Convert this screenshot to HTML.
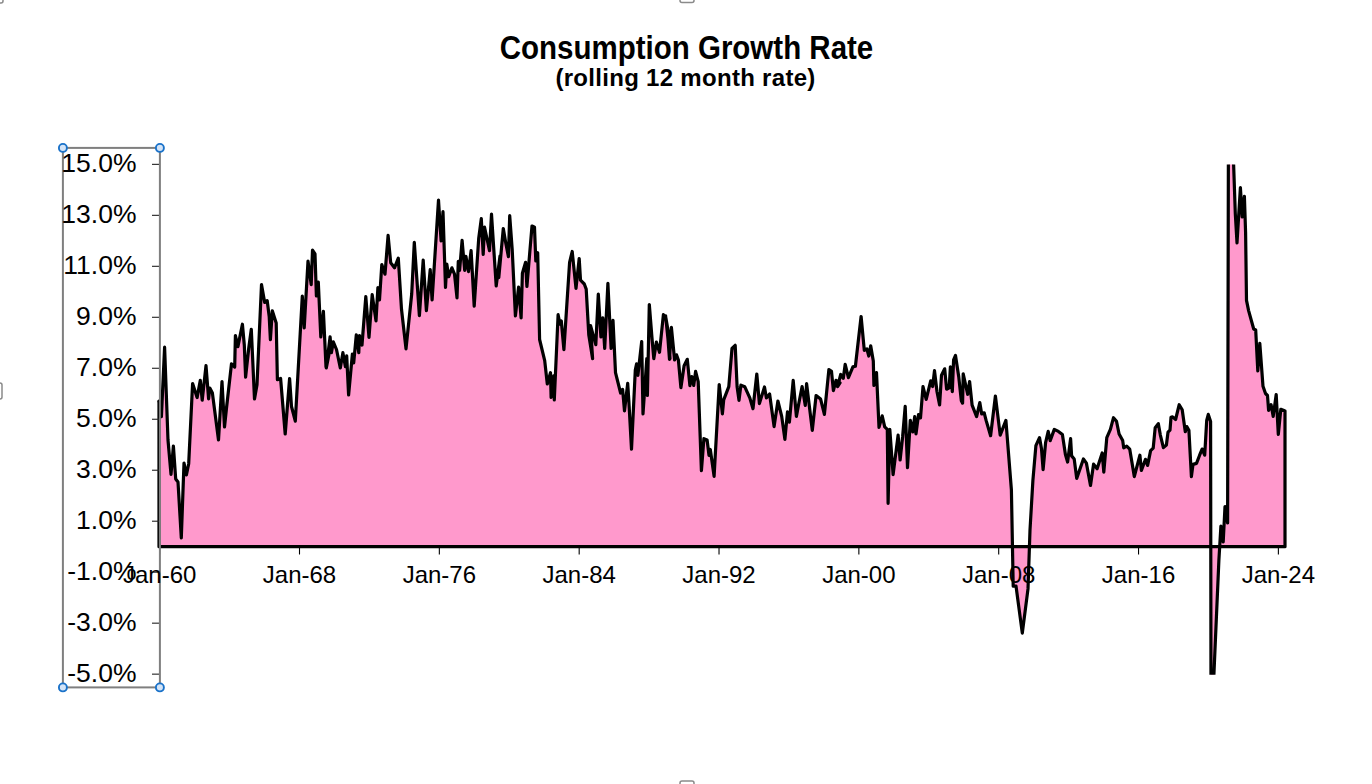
<!DOCTYPE html>
<html><head><meta charset="utf-8"><style>
html,body{margin:0;padding:0;background:#fff;width:1372px;height:784px;overflow:hidden;position:relative}
text{font-family:"Liberation Sans",sans-serif;fill:#000}
.yl{font-size:26.5px}
.xl{font-size:24px}
.t1{font-size:29.5px;font-weight:bold}
.t2{font-size:24px;font-weight:bold;letter-spacing:0.3px}
</style></head><body>
<svg width="1372" height="784" viewBox="0 0 1372 784" style="position:absolute;left:0;top:0">
<defs><clipPath id="pc"><rect x="150" y="164.5" width="1150" height="510.3"/></clipPath></defs>
<path d="M159.0 546.7 L159.0 401.0 L158.8 401.4 L161.4 416.7 L164.6 347.2 L168.0 440.0 L171.0 474.4 L173.4 446.0 L175.7 479.0 L178.0 482.0 L181.3 538.0 L184.0 463.0 L186.4 475.0 L188.7 463.7 L192.6 383.6 L197.1 397.6 L200.3 380.4 L202.2 400.2 L206.0 365.7 L208.6 398.9 L209.8 388.0 L212.4 393.1 L218.5 440.0 L222.0 381.7 L224.5 427.0 L226.4 409.0 L231.5 363.8 L234.7 367.0 L235.4 335.5 L237.9 346.6 L242.4 324.2 L244.3 345.0 L245.6 377.2 L248.7 348.5 L251.3 329.3 L254.5 398.9 L257.0 384.8 L261.5 284.6 L264.7 302.5 L267.2 300.6 L269.2 316.5 L270.4 339.6 L272.3 310.8 L276.2 322.9 L277.4 379.7 L280.6 378.5 L285.2 434.0 L289.6 378.5 L291.5 406.5 L295.3 421.2 L302.3 296.1 L304.2 328.0 L308.0 261.0 L311.2 284.6 L312.5 250.2 L315.0 254.0 L316.4 296.0 L318.3 282.0 L320.8 337.0 L323.4 311.4 L326.0 367.0 L330.0 349.0 L326.3 368.0 L330.1 336.8 L331.4 352.7 L333.3 341.9 L336.5 349.5 L340.3 368.0 L342.9 352.7 L345.4 366.7 L346.7 355.9 L348.6 395.0 L352.4 354.0 L353.7 362.9 L356.3 334.8 L358.8 352.7 L359.4 335.5 L362.0 345.0 L365.8 296.6 L369.0 337.4 L372.2 294.7 L376.0 320.8 L377.9 287.7 L379.5 300.0 L381.8 264.6 L385.0 274.2 L388.1 235.3 L390.7 262.7 L394.5 267.8 L398.3 258.2 L401.5 309.3 L406.0 348.9 L411.7 294.0 L414.3 242.3 L419.4 315.7 L423.2 260.2 L426.4 310.6 L430.2 269.7 L432.1 299.8 L438.5 200.2 L441.1 241.0 L443.0 211.7 L445.5 287.5 L446.8 264.0 L448.7 276.7 L451.9 267.8 L454.5 274.2 L457.0 297.9 L458.3 261.4 L459.6 270.4 L462.1 240.4 L464.7 270.4 L465.9 256.3 L468.5 271.6 L471.1 250.6 L474.2 306.1 L478.7 238.5 L481.3 218.7 L483.2 254.4 L484.5 227.0 L489.5 250.6 L491.5 214.2 L496.2 286.0 L500.0 256.0 L498.8 277.6 L503.3 228.5 L505.8 243.2 L508.4 256.6 L509.7 215.7 L512.2 249.5 L515.4 315.9 L518.6 287.2 L521.1 317.9 L522.4 273.1 L525.6 262.3 L526.9 286.5 L532.0 226.0 L534.5 227.2 L535.8 261.0 L537.7 252.7 L539.6 339.5 L544.7 360.6 L547.3 384.0 L550.5 372.7 L551.1 397.4 L553.7 375.9 L554.3 400.0 L558.1 314.7 L560.0 324.2 L561.3 321.0 L563.9 349.7 L569.6 262.3 L572.2 251.5 L576.0 288.4 L579.2 258.5 L580.5 280.2 L584.3 284.0 L586.2 289.1 L588.8 335.1 L592.6 358.7 L590.5 325.5 L595.8 344.6 L598.3 294.2 L600.9 337.0 L602.8 317.9 L604.7 348.5 L607.9 283.3 L611.1 348.5 L613.0 320.4 L615.5 372.7 L620.6 393.0 L622.6 389.3 L624.5 410.8 L627.7 383.4 L628.9 401.9 L631.5 449.1 L635.3 370.0 L636.6 363.8 L637.9 375.3 L641.7 341.5 L643.0 414.0 L646.8 358.7 L647.4 395.5 L649.3 304.5 L651.9 337.0 L653.8 358.7 L656.4 342.1 L659.5 352.3 L663.4 314.7 L665.9 317.9 L668.5 333.2 L670.0 358.7 L665.6 315.9 L667.6 333.8 L669.5 359.3 L671.4 327.4 L674.6 360.0 L676.5 354.8 L678.4 360.0 L680.9 387.7 L684.1 365.7 L687.3 359.3 L689.9 385.7 L691.8 376.5 L693.7 385.5 L695.6 371.4 L698.2 381.6 L701.4 470.6 L703.9 438.7 L707.1 440.0 L709.0 455.3 L710.3 449.5 L714.1 476.3 L719.2 384.5 L722.4 413.8 L723.7 399.8 L728.8 386.7 L732.0 348.5 L735.2 345.3 L737.1 386.7 L739.0 400.4 L740.9 385.1 L744.7 386.7 L749.8 397.9 L753.0 408.7 L756.8 374.0 L759.4 403.6 L764.5 387.0 L766.4 397.9 L769.6 394.0 L774.1 426.6 L777.9 401.0 L781.7 416.4 L784.9 439.3 L787.5 411.9 L789.4 422.1 L793.2 380.4 L796.4 416.4 L798.9 403.0 L802.1 386.5 L805.3 405.5 L806.6 383.6 L812.3 430.4 L816.1 395.5 L820.6 399.1 L824.4 414.4 L828.9 369.5 L831.5 371.4 L833.4 390.6 L836.0 380.4 L840.0 382.9 L837.6 386.6 L840.7 374.5 L843.3 378.3 L845.2 364.3 L848.4 377.7 L852.9 366.9 L855.4 366.2 L858.6 338.2 L861.1 316.5 L864.3 350.3 L866.9 349.0 L868.8 356.0 L870.7 345.8 L873.3 361.1 L873.9 385.4 L876.5 372.6 L879.0 427.4 L882.2 415.9 L884.7 426.8 L887.3 429.3 L888.1 503.3 L889.8 429.3 L893.1 474.6 L898.1 435.1 L900.1 460.0 L902.6 437.0 L905.2 406.4 L907.5 467.6 L910.3 420.4 L912.8 431.9 L914.7 416.6 L916.0 433.8 L918.5 414.7 L920.5 417.9 L923.0 386.6 L926.2 399.4 L930.7 380.9 L932.6 386.6 L934.5 370.7 L937.0 391.7 L939.6 405.0 L941.5 375.2 L944.7 368.8 L946.6 389.2 L949.2 387.9 L950.4 366.9 L952.3 391.7 L953.6 359.8 L955.5 355.4 L958.7 376.4 L961.3 400.7 L962.6 403.2 L963.2 373.9 L967.7 394.3 L969.6 381.5 L972.1 405.1 L976.6 416.6 L979.8 402.6 L981.7 414.0 L984.2 412.8 L986.1 420.4 L990.6 435.7 L995.4 396.0 L1000.2 435.1 L1005.9 420.4 L1011.4 490.0 L1013.2 586.1 L1016.0 586.0 L1022.3 633.1 L1028.0 588.9 L1030.0 530.0 L1032.9 480.4 L1035.9 445.7 L1039.5 437.6 L1041.5 448.8 L1043.1 469.7 L1045.6 442.7 L1048.2 431.4 L1050.2 440.6 L1054.3 429.4 L1058.4 431.4 L1062.4 434.5 L1065.5 454.9 L1067.6 462.0 L1070.6 438.6 L1071.6 455.9 L1074.2 459.0 L1076.7 478.4 L1083.4 459.0 L1086.4 463.1 L1090.5 485.5 L1093.6 464.1 L1097.1 468.7 L1102.2 452.9 L1103.8 472.2 L1106.8 437.6 L1110.4 429.4 L1113.5 417.7 L1116.5 421.2 L1119.1 434.0 L1122.7 440.6 L1123.7 447.8 L1126.7 446.2 L1129.7 449.1 L1134.3 476.6 L1139.9 455.2 L1141.4 470.5 L1145.5 459.3 L1147.6 465.4 L1150.6 450.6 L1153.2 448.1 L1155.2 427.7 L1158.3 423.6 L1160.3 434.8 L1163.4 447.6 L1166.4 445.0 L1168.0 432.2 L1170.0 430.2 L1171.0 417.4 L1172.6 416.9 L1175.6 419.5 L1179.2 404.7 L1182.2 409.8 L1185.3 431.7 L1186.8 426.6 L1188.9 430.2 L1191.4 476.6 L1193.0 464.4 L1196.5 463.4 L1199.6 455.2 L1202.1 449.1 L1204.7 455.2 L1206.7 420.5 L1208.3 414.4 L1210.6 421.5 L1211.0 700.0 L1212.8 700.0 L1218.9 560.0 L1220.9 526.0 L1223.2 542.0 L1225.0 506.5 L1227.6 523.0 L1228.5 100.0 L1231.4 100.0 L1235.3 213.5 L1237.0 242.8 L1240.4 187.7 L1242.2 217.0 L1244.4 196.3 L1245.6 232.5 L1246.5 300.4 L1248.6 310.6 L1253.7 329.0 L1255.7 330.0 L1257.8 370.8 L1259.8 343.3 L1263.0 386.3 L1265.5 393.5 L1267.5 395.5 L1268.6 410.3 L1271.1 404.7 L1273.2 416.4 L1276.2 394.5 L1278.3 434.3 L1280.8 409.3 L1284.6 410.8 L1285.0 410.8 L1285.0 546.7 Z" fill="#FF99CC" stroke="#000" stroke-width="3.2" stroke-linejoin="round" clip-path="url(#pc)"/>
<line x1="159" y1="546.7" x2="1286" y2="546.7" stroke="#000" stroke-width="2.6"/>
<line x1="159.66" y1="547.5" x2="159.66" y2="554.5" stroke="#000" stroke-width="1.1"/>
<line x1="299.50" y1="547.5" x2="299.50" y2="554.5" stroke="#000" stroke-width="1.1"/>
<line x1="439.34" y1="547.5" x2="439.34" y2="554.5" stroke="#000" stroke-width="1.1"/>
<line x1="579.18" y1="547.5" x2="579.18" y2="554.5" stroke="#000" stroke-width="1.1"/>
<line x1="719.02" y1="547.5" x2="719.02" y2="554.5" stroke="#000" stroke-width="1.1"/>
<line x1="858.86" y1="547.5" x2="858.86" y2="554.5" stroke="#000" stroke-width="1.1"/>
<line x1="998.70" y1="547.5" x2="998.70" y2="554.5" stroke="#000" stroke-width="1.1"/>
<line x1="1138.54" y1="547.5" x2="1138.54" y2="554.5" stroke="#000" stroke-width="1.1"/>
<line x1="1278.38" y1="547.5" x2="1278.38" y2="554.5" stroke="#000" stroke-width="1.1"/>
<line x1="152" y1="164.35" x2="160" y2="164.35" stroke="#222" stroke-width="1.1"/>
<line x1="152" y1="215.33" x2="160" y2="215.33" stroke="#222" stroke-width="1.1"/>
<line x1="152" y1="266.31" x2="160" y2="266.31" stroke="#222" stroke-width="1.1"/>
<line x1="152" y1="317.29" x2="160" y2="317.29" stroke="#222" stroke-width="1.1"/>
<line x1="152" y1="368.27" x2="160" y2="368.27" stroke="#222" stroke-width="1.1"/>
<line x1="152" y1="419.25" x2="160" y2="419.25" stroke="#222" stroke-width="1.1"/>
<line x1="152" y1="470.23" x2="160" y2="470.23" stroke="#222" stroke-width="1.1"/>
<line x1="152" y1="521.21" x2="160" y2="521.21" stroke="#222" stroke-width="1.1"/>
<line x1="152" y1="572.19" x2="160" y2="572.19" stroke="#222" stroke-width="1.1"/>
<line x1="152" y1="623.17" x2="160" y2="623.17" stroke="#222" stroke-width="1.1"/>
<line x1="152" y1="674.15" x2="160" y2="674.15" stroke="#222" stroke-width="1.1"/>
<rect x="62.9" y="147.9" width="97" height="539.5" fill="none" stroke="#7f7f7f" stroke-width="2"/>
<circle cx="62.9" cy="147.9" r="4" fill="#d4e4f7" stroke="#1a72c9" stroke-width="1.9"/>
<circle cx="159.9" cy="147.9" r="4" fill="#d4e4f7" stroke="#1a72c9" stroke-width="1.9"/>
<circle cx="62.9" cy="687.4" r="4" fill="#d4e4f7" stroke="#1a72c9" stroke-width="1.9"/>
<circle cx="159.9" cy="687.4" r="4" fill="#d4e4f7" stroke="#1a72c9" stroke-width="1.9"/>
<text x="136.5" y="172.2" text-anchor="end" class="yl">15.0%</text>
<text x="136.5" y="223.1" text-anchor="end" class="yl">13.0%</text>
<text x="136.5" y="274.1" text-anchor="end" class="yl">11.0%</text>
<text x="136.5" y="325.1" text-anchor="end" class="yl">9.0%</text>
<text x="136.5" y="376.1" text-anchor="end" class="yl">7.0%</text>
<text x="136.5" y="427.1" text-anchor="end" class="yl">5.0%</text>
<text x="136.5" y="478.0" text-anchor="end" class="yl">3.0%</text>
<text x="136.5" y="529.0" text-anchor="end" class="yl">1.0%</text>
<text x="136.5" y="580.0" text-anchor="end" class="yl">-1.0%</text>
<text x="136.5" y="631.0" text-anchor="end" class="yl">-3.0%</text>
<text x="136.5" y="682.0" text-anchor="end" class="yl">-5.0%</text>
<text x="159.66" y="583" text-anchor="middle" class="xl">Jan-60</text>
<text x="299.50" y="583" text-anchor="middle" class="xl">Jan-68</text>
<text x="439.34" y="583" text-anchor="middle" class="xl">Jan-76</text>
<text x="579.18" y="583" text-anchor="middle" class="xl">Jan-84</text>
<text x="719.02" y="583" text-anchor="middle" class="xl">Jan-92</text>
<text x="858.86" y="583" text-anchor="middle" class="xl">Jan-00</text>
<text x="998.70" y="583" text-anchor="middle" class="xl">Jan-08</text>
<text x="1138.54" y="583" text-anchor="middle" class="xl">Jan-16</text>
<text x="1278.38" y="583" text-anchor="middle" class="xl">Jan-24</text>
<text x="686.5" y="0" text-anchor="middle" class="t1" transform="translate(0,59) scale(1,1.1)">Consumption Growth Rate</text>
<text x="685.5" y="86" text-anchor="middle" class="t2">(rolling 12 month rate)</text>
<rect x="-8" y="-8" width="11" height="11" rx="2" fill="#fff" stroke="#8a8a8a" stroke-width="1.5"/>
<rect x="680" y="-8" width="14" height="10.5" rx="2" fill="#fff" stroke="#8a8a8a" stroke-width="1.5"/>
<rect x="680" y="781" width="14" height="10" rx="2" fill="#fff" stroke="#8a8a8a" stroke-width="1.5"/>
<rect x="-8" y="383" width="10" height="16" rx="2" fill="#fff" stroke="#8a8a8a" stroke-width="1.5"/>
</svg>
</body></html>
